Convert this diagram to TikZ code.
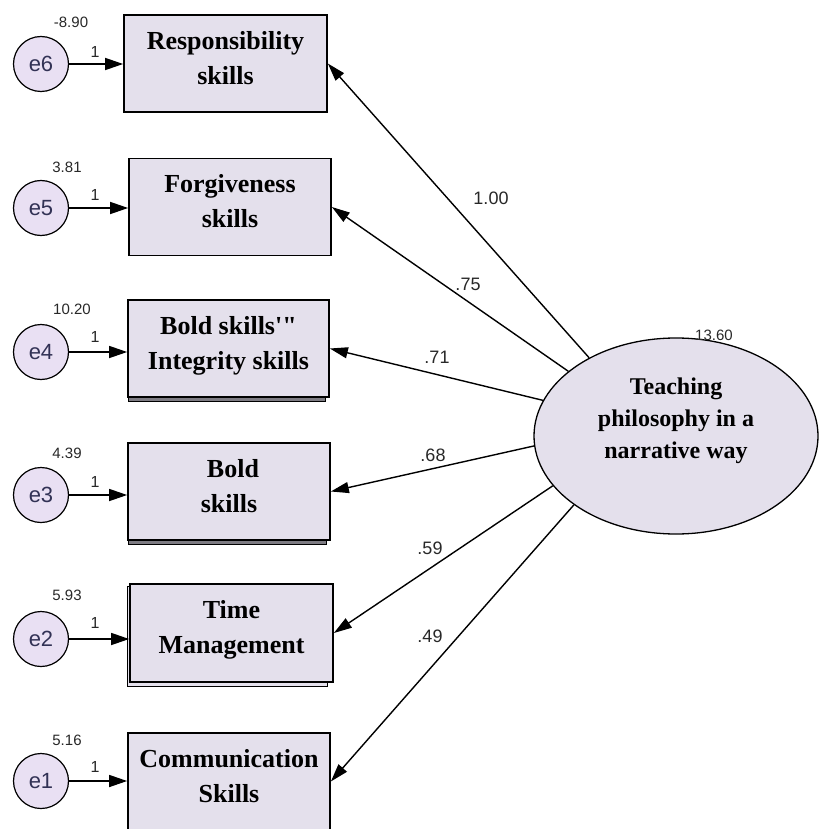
\documentclass[tikz,border=0pt]{standalone}
\usepackage{fontspec}
\setmainfont{Liberation Serif}
\newfontfamily\numfont{Liberation Sans}
\newfontfamily\rawserif[Ligatures=TeXOff]{Liberation Serif}
\usetikzlibrary{arrows.meta,shapes.geometric,backgrounds}
\definecolor{boxfill}{RGB}{228,224,236}
\definecolor{errfill}{RGB}{233,224,243}
\definecolor{errtext}{RGB}{50,50,85}
\definecolor{numtext}{RGB}{40,40,40}
\begin{document}
\begin{tikzpicture}[x=1pt,y=-1pt,
  obs/.style={draw, rectangle, line width=1.7pt, fill=boxfill, inner sep=0pt,
    minimum width=202pt, minimum height=97pt, align=center, text depth=12pt,
    font=\fontsize{26}{35}\selectfont\bfseries},
  err/.style={draw, circle, line width=1.2pt, fill=errfill, minimum size=55pt,
    inner sep=0pt, text=errtext, font=\numfont\fontsize{22}{22}\selectfont},
  lat/.style={draw, ellipse, line width=1.3pt, fill=boxfill, minimum width=284pt,
    minimum height=196pt, inner sep=0pt},
  lattext/.style={align=center, font=\fontsize{24}{32}\selectfont\bfseries},
  pathline/.style={line width=1.4pt, -{Triangle[length=18pt,width=11pt]}},
  errline/.style={line width=1.5pt, -{Triangle[length=18pt,width=12pt]}},
  coef/.style={text=numtext, font=\numfont\fontsize{18}{18}\selectfont},
  varlbl/.style={text=numtext, font=\numfont\fontsize{15}{15}\selectfont},
  onelbl/.style={text=numtext, font=\numfont\fontsize{16}{16}\selectfont},
  shadowstrip/.style={draw, line width=1.1pt, fill=boxfill!55!black}
]
\clip (0,0) rectangle (819,829);

% observed variables
\node[obs, minimum width=203pt] (b1) at (225.5,63.5) {Responsibility\\skills};
\node[obs] (b2) at (230,207) {Forgiveness\\skills};
\node[obs, minimum width=201pt] (b3) at (228.5,348.5) {Bold skills{\rawserif\symbol{39}\symbol{34}}\\Integrity skills};
\node[obs] (b4) at (229,491.5) {\hspace*{8pt}Bold\\skills};
\node[obs, minimum width=203pt, minimum height=98pt] (b5) at (231.5,633) {Time\\Management};
\node[obs] (b6) at (229,781.5) {Communication\\Skills};

% shadows
\begin{scope}[on background layer]
\fill[white] (0,0) rectangle (819,829);
\draw[shadowstrip] ([xshift=1pt]b3.south west) rectangle ([xshift=-4pt,yshift=-4pt]b3.south east);
\draw[shadowstrip] ([xshift=1pt]b4.south west) rectangle ([xshift=-4pt,yshift=-4pt]b4.south east);
\draw[draw, line width=1.1pt, fill=boxfill] ([xshift=-2pt,yshift=-3pt]b5.north west) rectangle ([xshift=-6pt,yshift=-4pt]b5.south east);
\end{scope}

% error terms
\node[err] (e6) at (41,64) {e6};
\node[err] (e5) at (41,208) {e5};
\node[err] (e4) at (41,352) {e4};
\node[err] (e3) at (41,495) {e3};
\node[err] (e2) at (41,639) {e2};
\node[err] (e1) at (41,781) {e1};

\draw[errline] (e6) -- (e6 -| b1.west);
\draw[errline] (e5) -- (e5 -| b2.west);
\draw[errline] (e4) -- (e4 -| b3.west);
\draw[errline] (e3) -- (e3 -| b4.west);
\draw[errline] (e2) -- (e2 -| b5.west);
\draw[errline] (e1) -- (e1 -| b6.west);

\node[varlbl] (v6) at (71,22) {-8.90};
\node[varlbl] (v5) at (67,167) {3.81};
\node[varlbl] (v4) at (72,309) {10.20};
\node[varlbl] (v3) at (67,453) {4.39};
\node[varlbl] (v2) at (67,595) {5.93};
\node[varlbl] (v1) at (67,740) {5.16};

\node[onelbl] (o6) at (95,52) {1};
\node[onelbl] (o5) at (95,195) {1};
\node[onelbl] (o4) at (95,337) {1};
\node[onelbl] (o3) at (95,482) {1};
\node[onelbl] (o2) at (95,623) {1};
\node[onelbl] (o1) at (95,767) {1};

% latent variable
\node[lat] (ell) at (676,436) {};
\node[lattext] (ellt) at (676,421) {Teaching\\philosophy in a\\narrative way};
\node[varlbl] (v0) at (714,335) {13.60};

% loadings
\draw[pathline] (ell.138) -- (b1.east);
\draw[pathline] (ell.149) -- (b2.east);
\draw[pathline] (ell.165) -- (b3.east);
\draw[pathline] (ell.184) -- (b4.east);
\draw[pathline] (ell.202) -- (b5.east);
\draw[pathline] (ell.214) -- (b6.east);

\node[coef] (c1) at (491,198) {1.00};
\node[coef] (c2) at (468,284) {.75};
\node[coef] (c3) at (437,357) {.71};
\node[coef] (c4) at (433,455) {.68};
\node[coef] (c5) at (430,548) {.59};
\node[coef] (c6) at (430,636) {.49};
\end{tikzpicture}
\end{document}
